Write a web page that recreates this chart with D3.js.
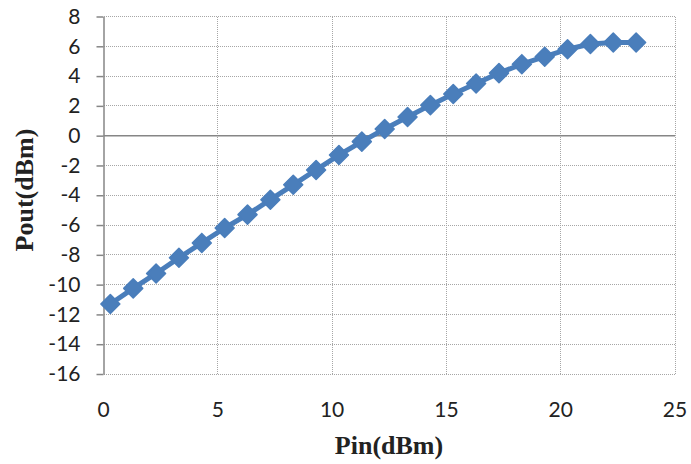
<!DOCTYPE html>
<html>
<head>
<meta charset="utf-8">
<script src="https://cdn.jsdelivr.net/npm/d3@7/dist/d3.min.js"></script>
<style>
  html, body { margin: 0; padding: 0; background: #fff; }
  svg { display: block; }
</style>
</head>
<body>
<svg id="chart" width="691" height="464"></svg>
<script>
// ---- data ----
const pin = [0.3, 1.3, 2.3, 3.3, 4.3, 5.3, 6.3, 7.3, 8.3, 9.3, 10.3, 11.3,
             12.3, 13.3, 14.3, 15.3, 16.3, 17.3, 18.3, 19.3, 20.3, 21.3, 22.3, 23.3];
const pout = [-11.3, -10.25, -9.25, -8.2, -7.2, -6.2, -5.3, -4.3, -3.3, -2.3, -1.3, -0.4,
              0.45, 1.25, 2.05, 2.8, 3.5, 4.2, 4.8, 5.3, 5.8, 6.15, 6.25, 6.25];
const xTicks = [0, 5, 10, 15, 20, 25];
const yTicks = [8, 6, 4, 2, 0, -2, -4, -6, -8, -10, -12, -14, -16];
const xTitle = "Pin(dBm)";
const yTitle = "Pout(dBm)";

// ---- layout ----
const svg = d3.select("#chart");
const pLeft = 103.5, pRight = 675, pTop = 16.5, pBottom = 374;
const x = d3.scaleLinear().domain([0, 25]).range([pLeft, pRight]);
const y = d3.scaleLinear().domain([-16, 8]).range([pBottom, pTop]);

const gridColor = "#a6a6a6";
const axisColor = "#868686";
const blue = "#4a7ebb";
const tickFont = "Lato, 'Open Sans', sans-serif";

// gridlines horizontal (dotted) except zero
svg.append("g").selectAll("line").data(yTicks.filter(d => d !== 0)).join("line")
  .attr("x1", pLeft).attr("x2", pRight)
  .attr("y1", d => y(d)).attr("y2", d => y(d))
  .attr("stroke", gridColor).attr("stroke-width", 1)
  .attr("stroke-dasharray", "1,1")
  .attr("shape-rendering", "crispEdges");

// gridlines vertical (dotted) except x=0
svg.append("g").selectAll("line").data(xTicks.filter(d => d !== 0)).join("line")
  .attr("x1", d => x(d)).attr("x2", d => x(d))
  .attr("y1", pTop).attr("y2", pBottom)
  .attr("stroke", gridColor).attr("stroke-width", 1)
  .attr("stroke-dasharray", "1,1")
  .attr("shape-rendering", "crispEdges");

// y axis
const yAxis = d3.axisLeft(y).tickValues(yTicks).tickSize(7).tickSizeOuter(0).tickPadding(16)
  .tickFormat(d => String(d));
const gy = svg.append("g").attr("transform", `translate(${pLeft},0)`).call(yAxis);
gy.select(".domain").attr("stroke", axisColor).attr("stroke-width", 1.5);
gy.selectAll(".tick line").attr("stroke", axisColor).attr("stroke-width", 1.5);
gy.selectAll(".tick text")
  .attr("font-family", tickFont)
  .attr("font-size", 21).attr("fill", "#222");

// zero horizontal axis line
svg.append("line")
  .attr("x1", pLeft).attr("x2", pRight)
  .attr("y1", y(0)).attr("y2", y(0))
  .attr("stroke", axisColor).attr("stroke-width", 1.5);

// x tick labels (at bottom)
svg.append("g").selectAll("text").data(xTicks).join("text")
  .attr("x", d => x(d)).attr("y", 417)
  .attr("text-anchor", "middle")
  .attr("font-family", tickFont)
  .attr("font-size", 21).attr("fill", "#222")
  .text(d => String(d));

// series line
const pts = pin.map((p, i) => [p, pout[i]]);
svg.append("path")
  .datum(pts)
  .attr("fill", "none")
  .attr("stroke", blue)
  .attr("stroke-width", 5)
  .attr("stroke-linejoin", "round")
  .attr("d", d3.line().x(d => x(d[0])).y(d => y(d[1])));

// diamond markers
const r = 9.5;
const diamond = `M0,${-r}L${r},0L0,${r}L${-r},0Z`;
svg.append("g").selectAll("path").data(pts).join("path")
  .attr("transform", d => `translate(${x(d[0])},${y(d[1])})`)
  .attr("d", diamond)
  .attr("fill", blue)
  .attr("stroke", blue).attr("stroke-width", 1.5).attr("stroke-linejoin", "round");

// axis titles
svg.append("text")
  .attr("x", 389).attr("y", 454)
  .attr("text-anchor", "middle")
  .attr("font-family", "'Liberation Serif', 'Times New Roman', serif")
  .attr("font-weight", "bold").attr("font-size", 26).attr("fill", "#222")
  .text(xTitle);

svg.append("text")
  .attr("transform", "translate(33,190) rotate(-90)")
  .attr("text-anchor", "middle")
  .attr("font-family", "'Liberation Serif', 'Times New Roman', serif")
  .attr("font-weight", "bold").attr("font-size", 26).attr("fill", "#222")
  .text(yTitle);
</script>
</body>
</html>
